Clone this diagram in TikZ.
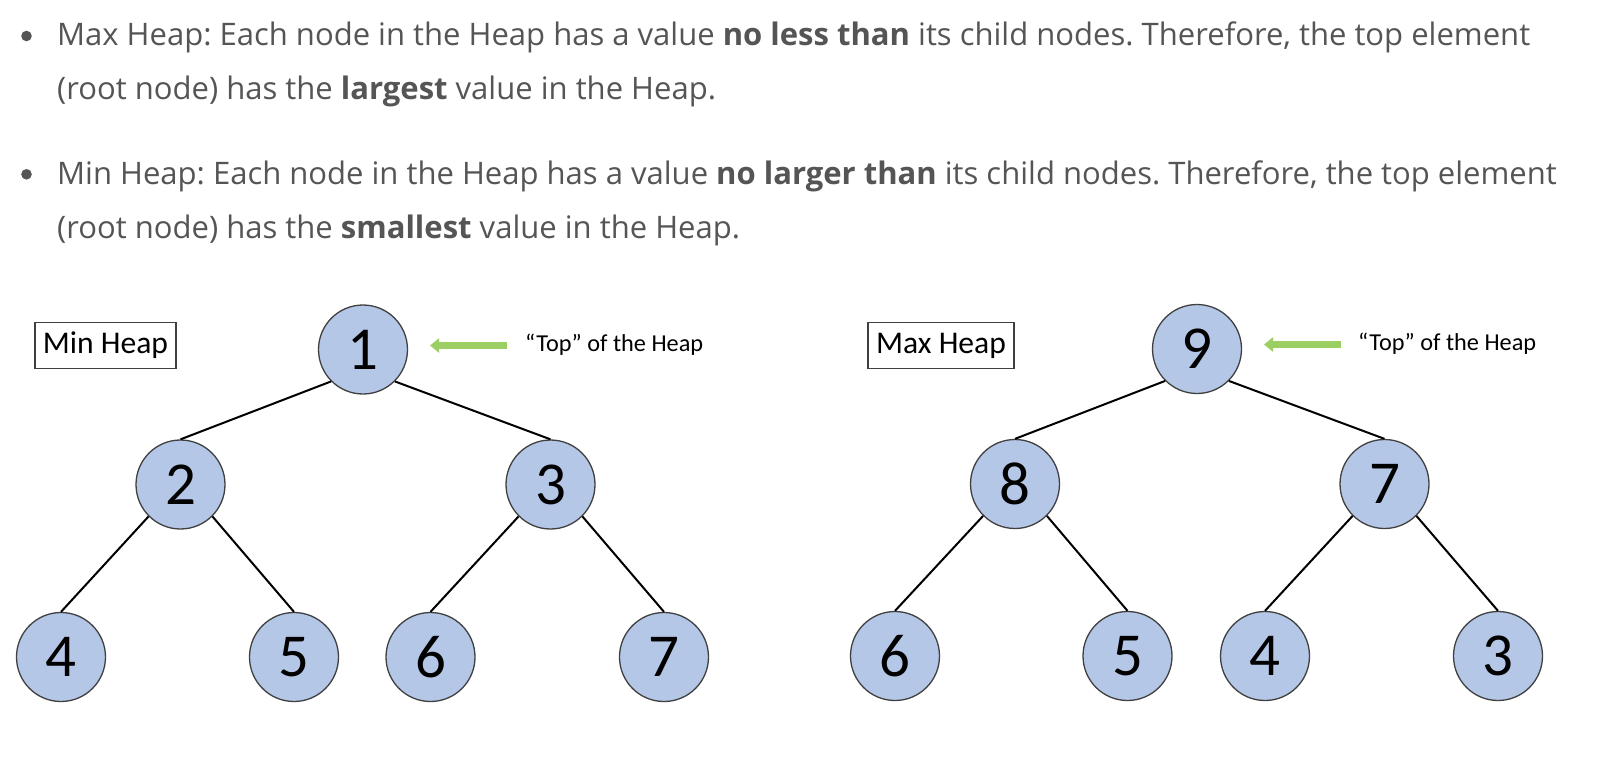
\documentclass[tikz,border=0pt]{standalone}
\usepackage{fontspec}
\setmainfont{Open Sans}
\newfontfamily\calibri{Carlito}
\usetikzlibrary{arrows.meta}
\definecolor{txtgray}{HTML}{555555}
\definecolor{nodeblue}{HTML}{B4C7E7}
\definecolor{nodeedge}{HTML}{404040}
\definecolor{arrowgreen}{RGB}{155,207,99}
\newcommand\lineAtext{Max Heap: Each node in the Heap has a value \textbf{no less than} its child nodes. Therefore, the top element}
\newlength\lineAwidth
\begin{document}
\frenchspacing
\settowidth{\lineAwidth}{\fontsize{10}{10}\selectfont\lineAtext}
\pgfmathsetmacro\parasize{10*1473/\lineAwidth}
\begin{tikzpicture}[x=1pt,y=-1pt,
  hnode/.style={circle, draw=nodeedge, fill=nodeblue, line width=1.3pt, minimum size=89pt, inner sep=0pt, font=\calibri\fontsize{61}{61}\selectfont},
  edge/.style={line width=2pt, black},
  labelbox/.style={draw=nodeedge, line width=1.3pt, minimum height=46pt, inner xsep=8pt, inner ysep=0pt, font=\calibri\fontsize{31.6}{31.6}\selectfont},
  toptext/.style={anchor=base west, inner sep=0pt, font=\calibri\fontsize{24.3}{24.3}\selectfont},
  garrow/.style={arrowgreen, line width=7pt, -{Triangle[width=14pt,length=9pt]}},
  para/.style={anchor=base west, inner sep=0pt, text=txtgray, font=\fontsize{\parasize}{\parasize}\selectfont},
  bulletdot/.style={fill=txtgray}
]
\useasboundingbox[fill=white] (0,0) rectangle (1606,766);

% bullets and text
\fill[bulletdot] (26.5,36) circle (5.3);
\fill[bulletdot] (26.5,174.3) circle (5.3);
\node[para] (t1) at (57,45.7) {\lineAtext};
\node[para] (t2) at (57,99.5) {(root node) has the \textbf{largest} value in the Heap.};
\node[para] (t3) at (57,184) {Min Heap: Each node in the Heap has a value \textbf{no larger than} its child nodes. Therefore, the top element};
\node[para] (t4) at (57,238) {(root node) has the \textbf{smallest} value in the Heap.};

% Min heap
\node[labelbox] (minlabel) at (105.5,345.5) {Min Heap};
\node[hnode] (a1) at (363,349.5) {1};
\node[hnode] (a2) at (180.5,484.5) {2};
\node[hnode] (a3) at (550.5,484.5) {3};
\node[hnode] (a4) at (61,657) {4};
\node[hnode] (a5) at (294,657) {5};
\node[hnode] (a6) at (430.5,657) {6};
\node[hnode] (a7) at (664,657) {7};
\draw[edge] (a1.south west) -- (a2.north);
\draw[edge] (a1.south east) -- (a3.north);
\draw[edge] (a2.south west) -- (a4.north);
\draw[edge] (a2.south east) -- (a5.north);
\draw[edge] (a3.south west) -- (a6.north);
\draw[edge] (a3.south east) -- (a7.north);
\node[toptext] (toplabA) at (525,351) {“Top” of the Heap};
\coordinate (arAs) at (507,345.5);
\coordinate (arAe) at (430,345.5);
\draw[garrow] (arAs) -- (arAe);

% Max heap
\node[labelbox] (maxlabel) at (941,345.5) {Max Heap};
\node[hnode] (b1) at (1197,349) {9};
\node[hnode] (b2) at (1015,484) {8};
\node[hnode] (b3) at (1384.5,484) {7};
\node[hnode] (b4) at (895,656) {6};
\node[hnode] (b5) at (1127.5,656) {5};
\node[hnode] (b6) at (1265,656) {4};
\node[hnode] (b7) at (1498,656) {3};
\draw[edge] (b1.south west) -- (b2.north);
\draw[edge] (b1.south east) -- (b3.north);
\draw[edge] (b2.south west) -- (b4.north);
\draw[edge] (b2.south east) -- (b5.north);
\draw[edge] (b3.south west) -- (b6.north);
\draw[edge] (b3.south east) -- (b7.north);
\node[toptext] (toplabB) at (1358,350) {“Top” of the Heap};
\coordinate (arBs) at (1341,344.5);
\coordinate (arBe) at (1264,344.5);
\draw[garrow] (arBs) -- (arBe);
\end{tikzpicture}
\end{document}
